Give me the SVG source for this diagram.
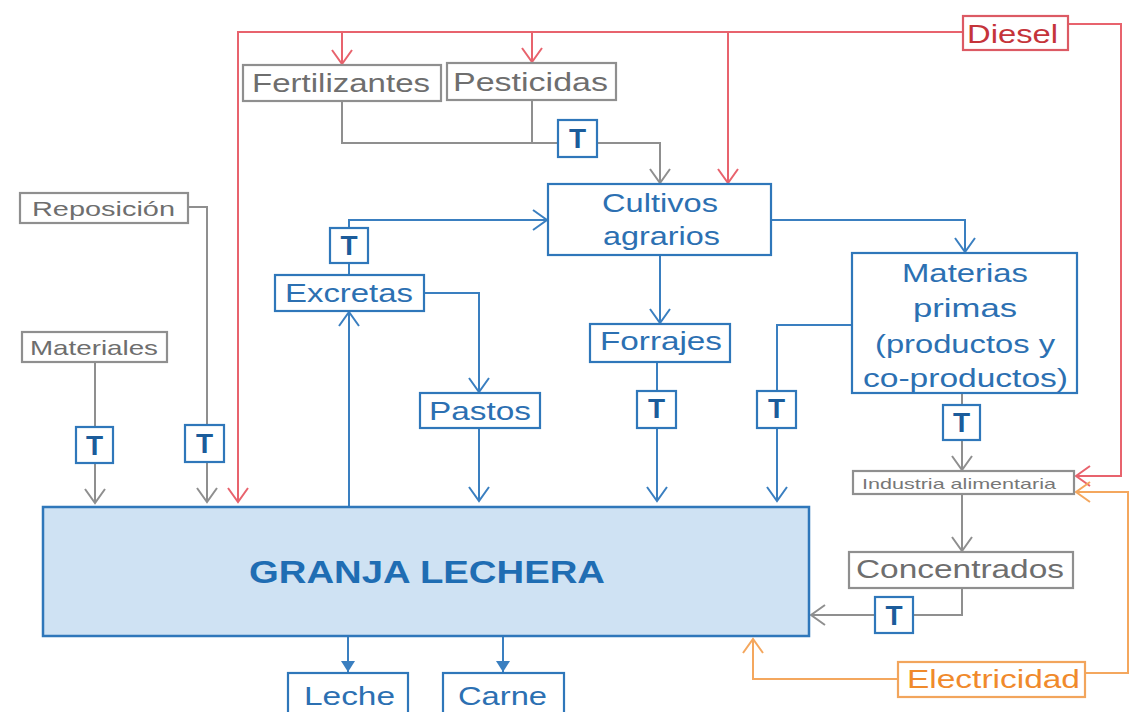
<svg xmlns="http://www.w3.org/2000/svg" width="1137" height="712" viewBox="0 0 1137 712">
<defs>
<style>
text{font-family:"Liberation Sans",Arial,sans-serif;}
.box{fill:#fff;stroke-width:2.2;}
.gb{stroke:#8f8f8f;}
.bb{stroke:#2f77ba;}
.rb{stroke:#dc5a64;}
.ob{stroke:#f2a55c;}
.gt{fill:#6e6e6e;font-size:26px;}
.gs{fill:#6e6e6e;font-size:21px;}
.bt{fill:#2c70b2;font-size:26px;}
.tt{fill:#1b5c9b;font-size:28px;font-weight:bold;text-anchor:middle;}
.ln{fill:none;stroke-width:2;}
.g{stroke:#8f8f8f;}
.b{stroke:#3a7fc0;}
.r{stroke:#e8636d;}
.o{stroke:#f4a75e;}
</style>
<marker id="ag" viewBox="-16 -12 18 24" refX="0" refY="0" markerWidth="18" markerHeight="24" markerUnits="userSpaceOnUse" orient="auto"><path d="M-14,-10 L0,0 L-14,10" fill="none" stroke="#8f8f8f" stroke-width="2"/></marker>
<marker id="ab" viewBox="-16 -12 18 24" refX="0" refY="0" markerWidth="18" markerHeight="24" markerUnits="userSpaceOnUse" orient="auto"><path d="M-14,-10 L0,0 L-14,10" fill="none" stroke="#3a7fc0" stroke-width="2"/></marker>
<marker id="ar" viewBox="-16 -12 18 24" refX="0" refY="0" markerWidth="18" markerHeight="24" markerUnits="userSpaceOnUse" orient="auto"><path d="M-14,-10 L0,0 L-14,10" fill="none" stroke="#e8636d" stroke-width="2"/></marker>
<marker id="ao" viewBox="-16 -12 18 24" refX="0" refY="0" markerWidth="18" markerHeight="24" markerUnits="userSpaceOnUse" orient="auto"><path d="M-14,-10 L0,0 L-14,10" fill="none" stroke="#f4a75e" stroke-width="2"/></marker>
<marker id="af" viewBox="-12 -8 13 16" refX="0" refY="0" markerWidth="13" markerHeight="16" markerUnits="userSpaceOnUse" orient="auto"><path d="M-11,-7 L0,0 L-11,7 Z" fill="#3a7fc0"/></marker>
</defs>
<rect width="1137" height="712" fill="#fff"/>

<g id="connectors">
<path class="ln r" d="M963,32 H238 V502" marker-end="url(#ar)"/>
<path class="ln r" d="M342,32 V64" marker-end="url(#ar)"/>
<path class="ln r" d="M532,32 V62" marker-end="url(#ar)"/>
<path class="ln r" d="M728,32 V183" marker-end="url(#ar)"/>
<path class="ln r" d="M1068,24 H1121 V476 H1076" marker-end="url(#ar)"/>
<path class="ln g" d="M342,101 V143 H558"/>
<path class="ln g" d="M532,100 V143"/>
<path class="ln g" d="M597,143 H660 V183" marker-end="url(#ag)"/>
<path class="ln g" d="M188,207 H207 V425"/>
<path class="ln g" d="M207,462 V502" marker-end="url(#ag)"/>
<path class="ln g" d="M95,362 V427"/>
<path class="ln g" d="M95,463 V503" marker-end="url(#ag)"/>
<path class="ln g" d="M962,393 V405"/>
<path class="ln g" d="M962,440 V470" marker-end="url(#ag)"/>
<path class="ln g" d="M962,494 V551" marker-end="url(#ag)"/>
<path class="ln g" d="M962,588 V615 H913"/>
<path class="ln g" d="M875,615 H811" marker-end="url(#ag)"/>
<path class="ln b" d="M349,275 V263"/>
<path class="ln b" d="M349,228 V220 H547" marker-end="url(#ab)"/>
<path class="ln b" d="M424,293 H479 V392" marker-end="url(#ab)"/>
<path class="ln b" d="M349,507 V312" marker-end="url(#ab)"/>
<path class="ln b" d="M479,428 V501" marker-end="url(#ab)"/>
<path class="ln b" d="M660,255 V323" marker-end="url(#ab)"/>
<path class="ln b" d="M657,362 V391"/>
<path class="ln b" d="M657,428 V501" marker-end="url(#ab)"/>
<path class="ln b" d="M771,220 H965 V252" marker-end="url(#ab)"/>
<path class="ln b" d="M852,325 H777 V391"/>
<path class="ln b" d="M777,428 V501" marker-end="url(#ab)"/>
<path class="ln b" d="M348,637 V672" marker-end="url(#af)"/>
<path class="ln b" d="M503,637 V672" marker-end="url(#af)"/>
<path class="ln o" d="M898,679 H753 V639" marker-end="url(#ao)"/>
<path class="ln o" d="M1085,673 H1128 V492 H1076" marker-end="url(#ao)"/>
</g>

<g id="diesel"><rect class="box rb" x="963" y="16" width="105" height="34"/><text x="967" y="43" font-size="26" fill="#c5343a" textLength="91" lengthAdjust="spacingAndGlyphs">Diesel</text></g>
<g id="fertilizantes"><rect class="box gb" x="243" y="65" width="198" height="36"/><text class="gt" x="252" y="92" textLength="178" lengthAdjust="spacingAndGlyphs">Fertilizantes</text></g>
<g id="pesticidas"><rect class="box gb" x="447" y="63" width="169" height="37"/><text class="gt" x="453" y="91" textLength="155" lengthAdjust="spacingAndGlyphs">Pesticidas</text></g>
<g id="reposicion"><rect class="box gb" x="20" y="193" width="168" height="30"/><text class="gs" x="32" y="216" textLength="143" lengthAdjust="spacingAndGlyphs">Reposición</text></g>
<g id="materiales"><rect class="box gb" x="22" y="332" width="145" height="30"/><text class="gs" x="30" y="355" textLength="128" lengthAdjust="spacingAndGlyphs">Materiales</text></g>
<g id="cultivos"><rect class="box bb" x="548" y="184" width="223" height="71"/><text class="bt" x="602" y="212" textLength="116" lengthAdjust="spacingAndGlyphs">Cultivos</text><text class="bt" x="603" y="245" textLength="117" lengthAdjust="spacingAndGlyphs">agrarios</text></g>
<g id="excretas"><rect class="box bb" x="275" y="275" width="149" height="36"/><text class="bt" x="285" y="302" textLength="128" lengthAdjust="spacingAndGlyphs">Excretas</text></g>
<g id="forrajes"><rect class="box bb" x="590" y="324" width="140" height="38"/><text class="bt" x="600" y="350" textLength="122" lengthAdjust="spacingAndGlyphs">Forrajes</text></g>
<g id="pastos"><rect class="box bb" x="420" y="393" width="120" height="35"/><text class="bt" x="429" y="420" textLength="102" lengthAdjust="spacingAndGlyphs">Pastos</text></g>
<g id="materias"><rect class="box bb" x="852" y="253" width="225" height="140"/>
<text class="bt" x="902" y="282" textLength="126" lengthAdjust="spacingAndGlyphs">Materias</text>
<text class="bt" x="913" y="317" textLength="104" lengthAdjust="spacingAndGlyphs">primas</text>
<text class="bt" x="875" y="353" textLength="180" lengthAdjust="spacingAndGlyphs">(productos y</text>
<text class="bt" x="863" y="387" textLength="205" lengthAdjust="spacingAndGlyphs">co-productos)</text></g>
<g id="industria"><rect class="box gb" x="853" y="471" width="221" height="23"/><text x="862" y="489" font-size="15" fill="#777" textLength="194" lengthAdjust="spacingAndGlyphs">Industria alimentaria</text></g>
<g id="concentrados"><rect class="box gb" x="849" y="552" width="224" height="36"/><text class="gt" x="856" y="578" textLength="208" lengthAdjust="spacingAndGlyphs">Concentrados</text></g>
<g id="electricidad"><rect class="box ob" x="898" y="662" width="187" height="35"/><text x="907" y="688" font-size="26" fill="#f08a2c" textLength="173" lengthAdjust="spacingAndGlyphs">Electricidad</text></g>
<g id="granja"><rect x="43" y="507" width="766" height="129" fill="#cfe2f3" stroke="#2f77ba" stroke-width="2.5"/><text x="249" y="583" font-size="31" font-weight="bold" fill="#1f6db3" textLength="356" lengthAdjust="spacingAndGlyphs">GRANJA LECHERA</text></g>
<g id="leche"><rect class="box bb" x="288" y="673" width="120" height="45"/><text class="bt" x="304" y="705" textLength="91" lengthAdjust="spacingAndGlyphs">Leche</text></g>
<g id="carne"><rect class="box bb" x="443" y="673" width="121" height="45"/><text class="bt" x="458" y="705" textLength="89" lengthAdjust="spacingAndGlyphs">Carne</text></g>

<g id="t1"><rect class="box bb" x="558" y="120" width="39" height="37"/><text class="tt" x="577.5" y="148">T</text></g>
<g id="t2"><rect class="box bb" x="330" y="228" width="38" height="35"/><text class="tt" x="349" y="255">T</text></g>
<g id="t3"><rect class="box bb" x="76" y="427" width="37" height="36"/><text class="tt" x="94.5" y="455">T</text></g>
<g id="t4"><rect class="box bb" x="185" y="425" width="39" height="37"/><text class="tt" x="204.5" y="453">T</text></g>
<g id="t5"><rect class="box bb" x="637" y="391" width="39" height="37"/><text class="tt" x="656.5" y="418">T</text></g>
<g id="t6"><rect class="box bb" x="757" y="391" width="39" height="37"/><text class="tt" x="776.5" y="418">T</text></g>
<g id="t7"><rect class="box bb" x="943" y="405" width="37" height="35"/><text class="tt" x="961.5" y="432">T</text></g>
<g id="t8"><rect class="box bb" x="875" y="597" width="38" height="36"/><text class="tt" x="894" y="625">T</text></g>
</svg>
